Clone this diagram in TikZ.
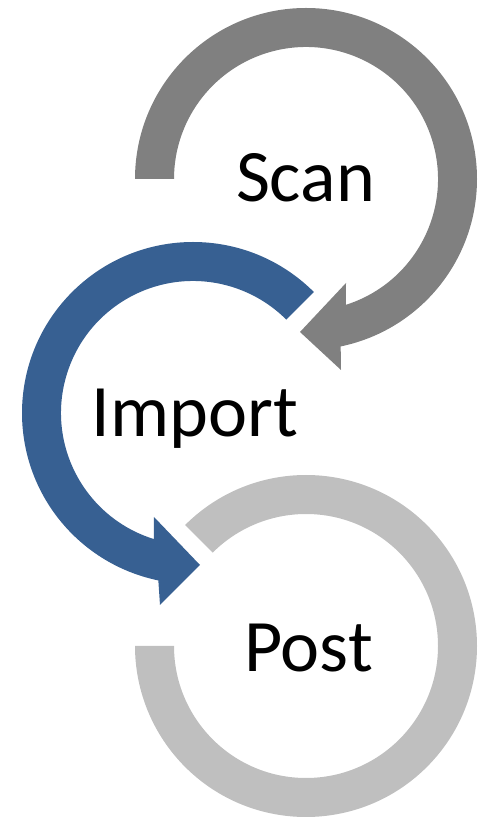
\documentclass[tikz,border=0pt]{standalone}
\usepackage{fontspec}
\setmainfont{Carlito}
\definecolor{scangray}{HTML}{808080}
\definecolor{importblue}{HTML}{376092}
\definecolor{postgray}{HTML}{BFBFBF}
\begin{document}
\begin{tikzpicture}[x=1pt,y=1pt,
  label/.style={inner sep=0pt,anchor=base,font=\fontsize{74}{88}\selectfont,text=black}]
\useasboundingbox (0,0) rectangle (479,817);
\coordinate (sc) at (306,638);
\coordinate (ic) at (193,404);
\coordinate (pc) at (306,171);
% Scan arrow
\fill[scangray] ([shift={(sc)}]180:171) arc[start angle=180,end angle=-78.3,radius=171]
  -- (341,447) -- (300,485) -- (346,534)
  -- ([shift={(sc)}]-72.4:132) arc[start angle=-72.4,end angle=180,radius=132] -- cycle;
% Import arrow
\fill[importblue] ([shift={(ic)}]45:171) arc[start angle=45,end angle=258.3,radius=171]
  -- (160,212) -- (200,252) -- (154,300)
  -- ([shift={(ic)}]252.7:132) arc[start angle=252.7,end angle=45,radius=132] -- cycle;
% Post ring
\fill[postgray] ([shift={(pc)}]135:171) arc[start angle=135,end angle=-180,radius=171]
  -- ([shift={(pc)}]-180:132) arc[start angle=-180,end angle=135,radius=132] -- cycle;
\node[label] (scan) at (305.5,615) {Scan};
\node[label] (import) at (195,380) {Import};
\node[label] (post) at (308.5,145) {Post};
\end{tikzpicture}
\end{document}
